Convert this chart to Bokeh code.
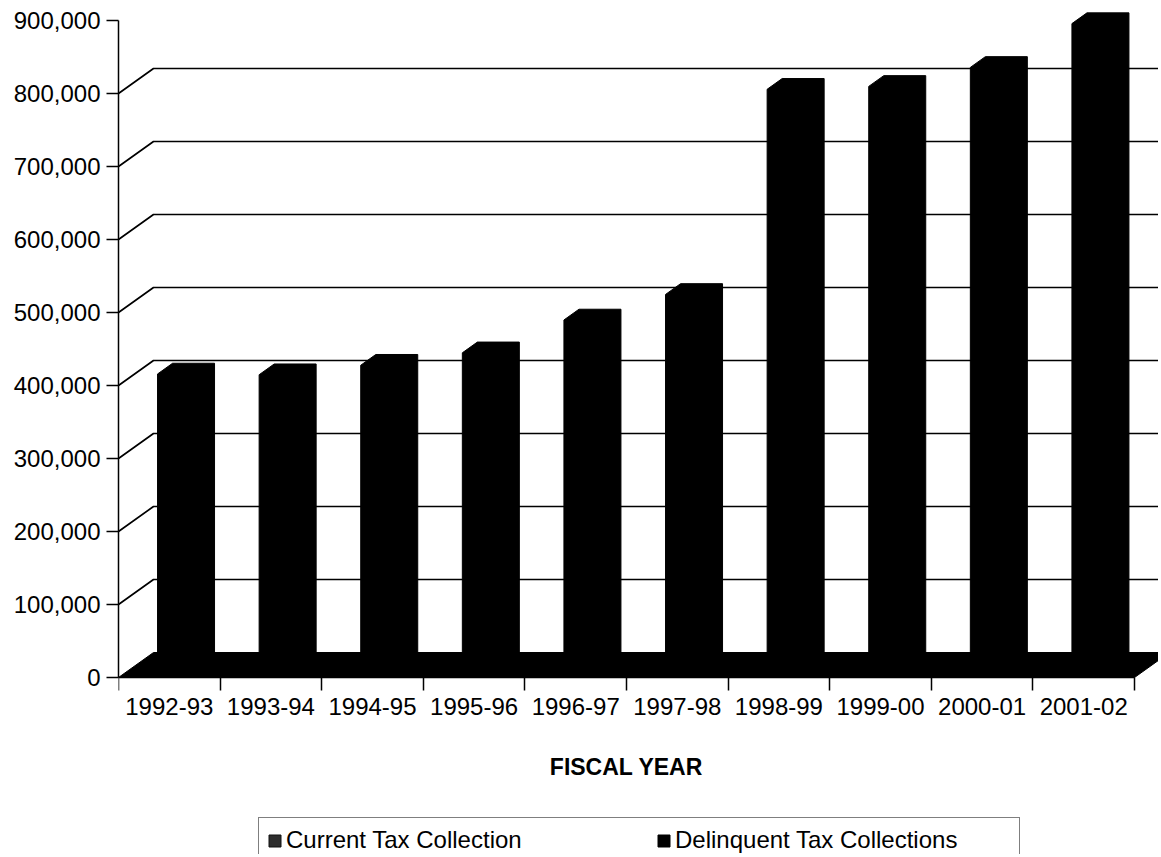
from bokeh.plotting import figure
from bokeh.models import (Range1d, FixedTicker, NumeralTickFormatter, LinearAxis,
                          Legend, LegendItem)
from bokeh.embed import file_html
from bokeh.resources import INLINE

# ---------------- data ----------------
years = ["1992-93", "1993-94", "1994-95", "1995-96", "1996-97",
         "1997-98", "1998-99", "1999-00", "2000-01", "2001-02"]
collections = [406000, 405000, 418000, 435000, 480000,
               515000, 796000, 800000, 826000, 886000]
y_ticks = [0, 100000, 200000, 300000, 400000, 500000, 600000, 700000, 800000, 900000]
grid_values = [100000, 200000, 300000, 400000, 500000, 600000, 700000, 800000]
legend_labels = ["Current Tax Collection", "Delinquent Tax Collections"]

# ---------------- geometry / style ----------------
W, H = 1158, 854
LEFT = 118
PX_PER_CAT = 101.6
PX_PER_UNIT = 73.0 / 100000
Y0_FIG = 677
x_start = -0.5
x_end = x_start + (W - LEFT) / PX_PER_CAT
y_top = Y0_FIG / PX_PER_UNIT
y_bot = -(H - Y0_FIG) / PX_PER_UNIT

DEPTH_X = 35 / PX_PER_CAT
DEPTH_Y = 25 / PX_PER_UNIT
F0, F1 = 0.285, 0.715
GAP, BAR_W = 0.286, 0.413
FONT = "Liberation Sans"

p = figure(width=W, height=H, x_range=Range1d(x_start, x_end), y_range=Range1d(y_bot, y_top),
           output_backend="svg", toolbar_location=None,
           x_axis_location=None, y_axis_location=None,
           min_border_left=LEFT, min_border_right=0, min_border_top=0, min_border_bottom=0,
           outline_line_color=None, background_fill_color="white", border_fill_color="white")
p.xgrid.visible = False
p.ygrid.visible = False

# gridlines (front edge -> back wall)
n = len(years)
gx, gy = [], []
for v in grid_values:
    gx.append([x_start, x_start + DEPTH_X, x_end + 1])
    gy.append([v, v + DEPTH_Y, v + DEPTH_Y])
p.multi_line(xs=gx, ys=gy, line_color="black", line_width=1.7)

# floor
p.patch(x=[x_start, x_start + n, x_start + n + DEPTH_X, x_start + DEPTH_X],
        y=[0, 0, DEPTH_Y, DEPTH_Y], fill_color="black", line_color="black", line_width=1)

# 3D bars
bx, by = [], []
ddx = (F1 - F0) * DEPTH_X
ya0, ya1 = F0 * DEPTH_Y, F1 * DEPTH_Y
for i, v in enumerate(collections):
    xa = i - 0.5 + GAP + F0 * DEPTH_X
    xb = xa + BAR_W
    bx.append([xa, xa, xa + ddx, xb + ddx, xb + ddx, xb])
    by.append([ya0, v + ya0, v + ya1, v + ya1, ya1, ya0])
bars = p.patches(xs=bx, ys=by, fill_color="black", line_color="black", line_width=1)

nan = float("nan")
cur = p.quad(left=[nan], right=[nan], top=[nan], bottom=[nan],
             fill_color="#2e2e2e", line_color="#111111")

# y axis
yaxis = LinearAxis(ticker=FixedTicker(ticks=y_ticks, minor_ticks=[]),
                   formatter=NumeralTickFormatter(format="0,0"),
                   bounds=(0, 900000),
                   major_tick_out=12, major_tick_in=0, minor_tick_out=0, minor_tick_in=0,
                   major_label_standoff=6,
                   axis_line_color="black", axis_line_width=1.5,
                   major_tick_line_color="black", major_tick_line_width=1.5,
                   major_label_text_font=FONT, major_label_text_font_size="24px",
                   major_label_text_color="black")
p.add_layout(yaxis, "left")

# x axis at y = 0
xaxis = LinearAxis(fixed_location=0,
                   ticker=FixedTicker(ticks=list(range(n)),
                                      minor_ticks=[i - 0.5 for i in range(n + 1)]),
                   major_label_overrides={i: y for i, y in enumerate(years)},
                   bounds=(x_start, x_start + n),
                   major_tick_out=0, major_tick_in=0, minor_tick_out=13, minor_tick_in=0,
                   minor_tick_line_color="black", minor_tick_line_width=1.5,
                   axis_line_color="black", axis_line_width=1.5,
                   major_label_standoff=7,
                   major_label_text_font=FONT, major_label_text_font_size="24px",
                   major_label_text_color="black",
                   axis_label="FISCAL YEAR", axis_label_standoff=36,
                   axis_label_text_font=FONT, axis_label_text_font_size="23px",
                   axis_label_text_font_style="bold", axis_label_text_color="black")
p.add_layout(xaxis, "below")

legend = Legend(items=[LegendItem(label=legend_labels[0], renderers=[cur]),
                       LegendItem(label=legend_labels[1], renderers=[bars])],
                orientation="horizontal", location=(140, -9),
                glyph_width=15, glyph_height=15, label_standoff=4,
                label_width=336, spacing=34, padding=8, margin=0,
                border_line_color="black", border_line_width=1.5,
                background_fill_color="white", background_fill_alpha=1.0,
                label_text_font=FONT, label_text_font_size="24px", label_text_color="black")
p.add_layout(legend, "center")

open("out.html", "w").write(file_html(p, INLINE))
